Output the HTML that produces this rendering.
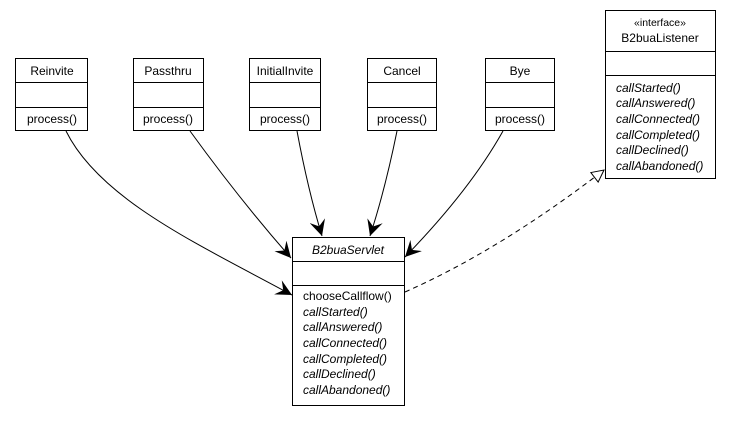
<!DOCTYPE html>
<html><head><style>
body{margin:0;background:#fff;width:731px;height:416px;overflow:hidden;}
svg text{font-family:"Liberation Sans",Arial,sans-serif;font-size:12px;fill:#000;}
.i{font-style:italic;}
</style></head><body>
<svg width="731" height="416" xmlns="http://www.w3.org/2000/svg">
<defs>
<marker id="a" markerWidth="18" markerHeight="16" refX="16" refY="8" orient="auto" markerUnits="userSpaceOnUse">
<path d="M0,0 L16,8 L0,16 L6,8 Z" fill="#000"/>
</marker>
<marker id="t" markerWidth="14" markerHeight="14" refX="13" refY="7" orient="auto" markerUnits="userSpaceOnUse">
<path d="M1,1 L13,7 L1,13 Z" fill="#fff" stroke="#000"/>
</marker>
</defs>
<g fill="#fff" stroke="#000" stroke-width="1">
<rect x="15.5" y="58.5" width="72" height="72"/><line x1="15" y1="82.5" x2="88" y2="82.5"/><line x1="15" y1="107.5" x2="88" y2="107.5"/>
<rect x="133.5" y="58.5" width="70" height="72"/><line x1="133" y1="82.5" x2="204" y2="82.5"/><line x1="133" y1="107.5" x2="204" y2="107.5"/>
<rect x="249.5" y="58.5" width="71" height="72"/><line x1="249" y1="82.5" x2="321" y2="82.5"/><line x1="249" y1="107.5" x2="321" y2="107.5"/>
<rect x="367.5" y="58.5" width="69" height="72"/><line x1="367" y1="82.5" x2="437" y2="82.5"/><line x1="367" y1="107.5" x2="437" y2="107.5"/>
<rect x="485.5" y="58.5" width="69" height="72"/><line x1="485" y1="82.5" x2="555" y2="82.5"/><line x1="485" y1="107.5" x2="555" y2="107.5"/>
<rect x="292.5" y="237.5" width="112" height="168"/><line x1="292" y1="261.5" x2="405" y2="261.5"/><line x1="292" y1="285.5" x2="405" y2="285.5"/>
<rect x="605.5" y="10.5" width="110" height="168"/><line x1="605" y1="51.5" x2="716" y2="51.5"/><line x1="605" y1="75.5" x2="716" y2="75.5"/>
</g>
<g text-anchor="middle">
<text x="52" y="75">Reinvite</text><text x="52" y="123">process()</text>
<text x="168" y="75">Passthru</text><text x="168" y="123">process()</text>
<text x="285" y="75">InitialInvite</text><text x="285" y="123">process()</text>
<text x="402" y="75">Cancel</text><text x="402" y="123">process()</text>
<text x="520" y="75">Bye</text><text x="520" y="123">process()</text>
<text x="348" y="254" class="i">B2buaServlet</text>
<text x="660" y="26" style="font-size:10.5px">«interface»</text>
<text x="660" y="42">B2buaListener</text>
</g>
<text x="303" y="300">chooseCallflow()</text>
<g class="i">
<text x="303" y="316">callStarted()</text><text x="303" y="331">callAnswered()</text><text x="303" y="347">callConnected()</text><text x="303" y="363">callCompleted()</text><text x="303" y="378">callDeclined()</text><text x="303" y="394">callAbandoned()</text>
<text x="616" y="92">callStarted()</text><text x="616" y="107">callAnswered()</text><text x="616" y="123">callConnected()</text><text x="616" y="139">callCompleted()</text><text x="616" y="154">callDeclined()</text><text x="616" y="170">callAbandoned()</text>
</g>
<g fill="none" stroke="#000" stroke-width="1">
<path d="M66,131 C100,200 200,245 292,295" marker-end="url(#a)"/>
<path d="M190,131 Q240,200 291,258" marker-end="url(#a)"/>
<path d="M297,131 Q308,190 322,236" marker-end="url(#a)"/>
<path d="M397,131 Q385,190 370,236" marker-end="url(#a)"/>
<path d="M503,131 Q470,190 405,257" marker-end="url(#a)"/>
<path d="M405,292 Q500,250 604,170" stroke-dasharray="5,4" marker-end="url(#t)"/>
</g>
</svg>
</body></html>
